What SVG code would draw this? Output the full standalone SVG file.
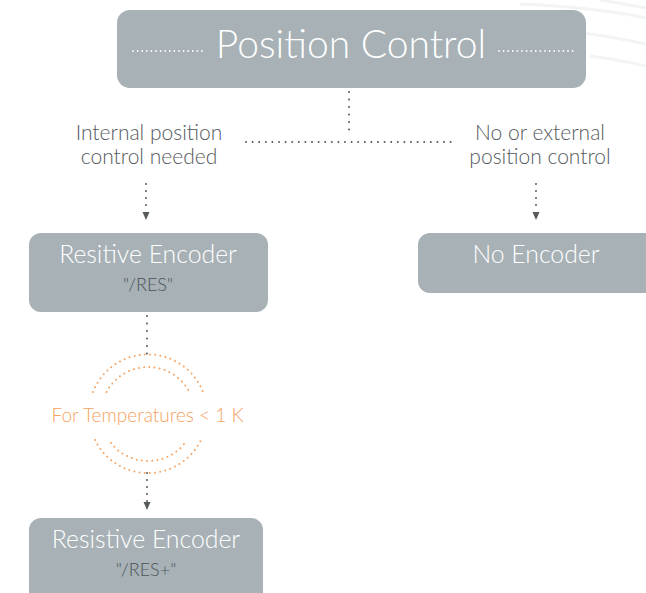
<svg xmlns="http://www.w3.org/2000/svg" width="646" height="593" viewBox="0 0 646 593">
<style>
.box{fill:#a7b1b6}
.title{font-family:Lato,"Open Sans",sans-serif;font-weight:300;fill:#ffffff}
.sub{font-family:Lato,"Open Sans",sans-serif;font-weight:300;fill:#4e5458;font-size:18px}
.lbl{font-family:Lato,"Open Sans",sans-serif;font-weight:300;fill:#555a5d;font-size:21px}
.dot{fill:none;stroke:#555a5d;stroke-width:2;stroke-linecap:round}
.odot{fill:none;stroke:#f5a25e;stroke-width:2;stroke-linecap:round;stroke-dasharray:0 5.2}
.wdot{fill:none;stroke:#ffffff;stroke-width:1.8;stroke-linecap:round;stroke-dasharray:0 4.6}
.deco{fill:none;stroke:#f2f4f5;stroke-width:3}
</style>
<rect width="646" height="593" fill="#ffffff"/>
<g id="decoration">
<path class="deco" d="M520 4 Q600 8 646 18"/>
<path class="deco" d="M560 30 Q610 36 646 44"/>
<path class="deco" d="M590 56 Q620 60 646 66"/>
<path class="deco" d="M600 0 Q625 4 646 8"/>
</g>
<g id="connectors">
<path class="dot" stroke-dasharray="0 7.5" d="M349 92 V137"/>
<path class="dot" stroke-dasharray="0 6.6" d="M246 142 H452"/>
<path class="dot" stroke-dasharray="0 7" d="M146 184 V212"/>
<path fill="#555a5d" d="M142.5 212 L149.5 212 L146 220 Z"/>
<path class="dot" stroke-dasharray="0 7" d="M536 184 V212"/>
<path fill="#555a5d" d="M532.5 212 L539.5 212 L536 220 Z"/>
<path class="dot" stroke-dasharray="0 7.5" d="M147 316 V354"/>
<path class="dot" stroke-dasharray="0 7" d="M147 473 V502"/>
<path fill="#555a5d" d="M143.5 502 L150.5 502 L147 510 Z"/>
<path class="odot" d="M93 392 A59 59 0 0 1 203 392"/>
<path class="odot" d="M106.5 392 A47 47 0 0 1 189.5 392"/>
<path class="odot" d="M95 440 A59 59 0 0 0 201 440"/>
<path class="odot" d="M111 443 A47 47 0 0 0 185 443"/>
</g>
<g id="node-position-control">
<rect class="box" x="117" y="10" width="469" height="78" rx="13"/>
<path class="wdot" d="M133 51 H205"/>
<path class="wdot" d="M499 51 H574"/>
<text class="title" x="351" y="58" font-size="39" text-anchor="middle">Position Control</text>
</g>
<g id="label-internal">
<text class="lbl" x="149" y="140" text-anchor="middle">Internal position</text>
<text class="lbl" x="149" y="164" text-anchor="middle">control needed</text>
</g>
<g id="label-external">
<text class="lbl" x="540" y="140" text-anchor="middle">No or external</text>
<text class="lbl" x="540" y="164" text-anchor="middle">position control</text>
</g>
<g id="node-res">
<rect class="box" x="29" y="233" width="239" height="79" rx="12"/>
<text class="title" x="148" y="263" font-size="24.8" text-anchor="middle">Resitive Encoder</text>
<text class="sub" x="148" y="291" text-anchor="middle">"/RES"</text>
</g>
<g id="node-no-encoder">
<rect class="box" x="418" y="233" width="240" height="60" rx="12"/>
<text class="title" x="536" y="263" font-size="24.8" text-anchor="middle">No Encoder</text>
</g>
<g id="label-temp">
<text x="147.5" y="422" font-family="Lato,'Open Sans',sans-serif" font-weight="300" font-size="19" fill="#f5a25e" text-anchor="middle">For Temperatures &lt; 1 K</text>
</g>
<g id="node-res-plus">
<rect class="box" x="29" y="518" width="234" height="90" rx="12"/>
<text class="title" x="146" y="548" font-size="24.8" text-anchor="middle">Resistive Encoder</text>
<text class="sub" x="146" y="576" text-anchor="middle">"/RES+"</text>
</g>
</svg>
